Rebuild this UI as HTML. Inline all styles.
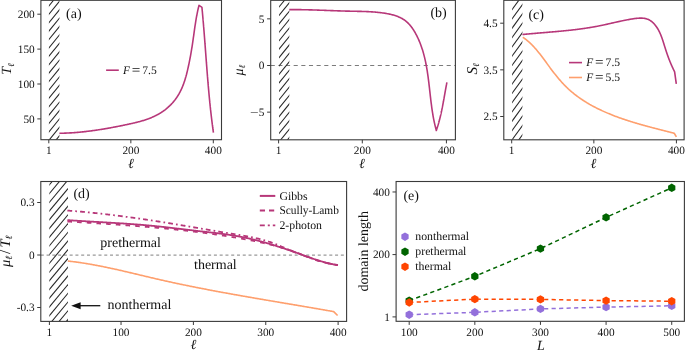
<!DOCTYPE html>
<html><head><meta charset="utf-8"><style>
html,body{margin:0;padding:0;background:#fff;width:685px;height:350px;overflow:hidden;font-family:"Liberation Serif",serif}
text{font-family:"Liberation Serif",serif;text-rendering:geometricPrecision}
</style></head><body>
<svg width="685" height="350" viewBox="0 0 685 350" style="position:absolute;left:0;top:0;will-change:transform">
<g font-family='"Liberation Serif", serif'>
<clipPath id="ha"><rect x="48.9" y="0.3" width="10.5" height="139.39999999999998"/></clipPath>
<g clip-path="url(#ha)" stroke="#262626" stroke-width="1.05">
<line x1="47.90" y1="-9.67" x2="60.40" y2="-25.05"/>
<line x1="47.90" y1="-1.27" x2="60.40" y2="-16.64"/>
<line x1="47.90" y1="7.13" x2="60.40" y2="-8.24"/>
<line x1="47.90" y1="15.53" x2="60.40" y2="0.16"/>
<line x1="47.90" y1="23.93" x2="60.40" y2="8.56"/>
<line x1="47.90" y1="32.33" x2="60.40" y2="16.96"/>
<line x1="47.90" y1="40.73" x2="60.40" y2="25.36"/>
<line x1="47.90" y1="49.13" x2="60.40" y2="33.75"/>
<line x1="47.90" y1="57.53" x2="60.40" y2="42.16"/>
<line x1="47.90" y1="65.93" x2="60.40" y2="50.56"/>
<line x1="47.90" y1="74.33" x2="60.40" y2="58.96"/>
<line x1="47.90" y1="82.73" x2="60.40" y2="67.36"/>
<line x1="47.90" y1="91.13" x2="60.40" y2="75.76"/>
<line x1="47.90" y1="99.53" x2="60.40" y2="84.16"/>
<line x1="47.90" y1="107.93" x2="60.40" y2="92.56"/>
<line x1="47.90" y1="116.33" x2="60.40" y2="100.96"/>
<line x1="47.90" y1="124.73" x2="60.40" y2="109.36"/>
<line x1="47.90" y1="133.13" x2="60.40" y2="117.76"/>
<line x1="47.90" y1="141.53" x2="60.40" y2="126.16"/>
<line x1="47.90" y1="149.93" x2="60.40" y2="134.56"/>
<line x1="47.90" y1="158.33" x2="60.40" y2="142.96"/>
<line x1="47.90" y1="166.73" x2="60.40" y2="151.35"/>
</g>
<path d="M59.39,133.28 L60.14,133.27 L60.89,133.25 L61.63,133.24 L62.38,133.22 L63.12,133.20 L63.87,133.18 L64.61,133.16 L65.35,133.13 L66.10,133.10 L66.84,133.07 L67.58,133.04 L68.33,133.00 L69.07,132.96 L69.81,132.92 L70.55,132.88 L71.30,132.83 L72.04,132.79 L72.78,132.74 L73.52,132.69 L74.26,132.63 L75.00,132.58 L75.74,132.52 L76.48,132.46 L77.22,132.40 L77.96,132.33 L78.70,132.27 L79.43,132.20 L80.17,132.13 L80.91,132.06 L81.65,131.98 L82.39,131.91 L83.12,131.83 L83.86,131.75 L84.60,131.67 L85.33,131.59 L86.07,131.50 L86.81,131.42 L87.54,131.33 L88.28,131.24 L89.01,131.15 L89.75,131.05 L90.48,130.96 L91.22,130.86 L91.95,130.76 L92.69,130.66 L93.42,130.56 L94.15,130.46 L94.89,130.35 L95.62,130.25 L96.35,130.14 L97.09,130.03 L97.82,129.92 L98.55,129.81 L99.28,129.69 L100.02,129.58 L100.75,129.46 L101.48,129.34 L102.21,129.23 L102.94,129.11 L103.68,128.98 L104.41,128.86 L105.14,128.74 L105.87,128.61 L106.60,128.49 L107.33,128.36 L108.06,128.23 L108.79,128.10 L109.52,127.97 L110.25,127.84 L110.98,127.70 L111.71,127.57 L112.44,127.43 L113.17,127.30 L113.90,127.16 L114.63,127.02 L115.36,126.88 L116.09,126.74 L116.82,126.60 L117.54,126.46 L118.27,126.31 L119.00,126.17 L119.73,126.03 L120.46,125.88 L121.19,125.73 L121.91,125.59 L122.64,125.44 L123.37,125.29 L124.10,125.14 L124.83,124.99 L125.55,124.84 L126.28,124.68 L127.01,124.53 L127.73,124.37 L128.46,124.22 L129.19,124.06 L129.91,123.90 L130.64,123.74 L131.36,123.57 L132.09,123.41 L132.81,123.24 L133.54,123.08 L134.26,122.91 L134.98,122.73 L135.71,122.56 L136.43,122.38 L137.15,122.20 L137.87,122.02 L138.59,121.84 L139.31,121.65 L140.02,121.45 L140.74,121.26 L141.46,121.06 L142.17,120.85 L142.88,120.64 L143.59,120.42 L144.30,120.20 L145.01,119.98 L145.71,119.75 L146.41,119.51 L147.11,119.26 L147.81,119.01 L148.51,118.76 L149.20,118.49 L149.89,118.22 L150.58,117.95 L151.26,117.67 L151.94,117.38 L152.62,117.08 L153.30,116.78 L153.97,116.47 L154.64,116.15 L155.30,115.83 L155.96,115.50 L156.62,115.16 L157.27,114.81 L157.92,114.46 L158.57,114.10 L159.21,113.73 L159.84,113.35 L160.47,112.96 L161.10,112.57 L161.72,112.17 L162.33,111.76 L162.95,111.34 L163.55,110.92 L164.15,110.48 L164.75,110.04 L165.33,109.59 L165.92,109.13 L166.49,108.66 L167.06,108.18 L167.63,107.70 L168.19,107.20 L168.74,106.70 L169.28,106.19 L169.82,105.68 L170.35,105.15 L170.88,104.62 L171.39,104.08 L171.90,103.54 L172.41,102.99 L172.90,102.43 L173.39,101.86 L173.86,101.29 L174.33,100.71 L174.80,100.13 L175.25,99.54 L175.69,98.94 L176.13,98.34 L176.56,97.73 L176.97,97.12 L177.38,96.50 L177.78,95.88 L178.17,95.25 L178.55,94.62 L178.92,93.98 L179.29,93.34 L179.64,92.69 L179.99,92.04 L180.33,91.39 L180.66,90.73 L180.98,90.07 L181.29,89.40 L181.60,88.73 L181.90,88.06 L182.19,87.38 L182.47,86.70 L182.75,86.01 L183.02,85.33 L183.29,84.64 L183.55,83.94 L183.80,83.25 L184.05,82.55 L184.29,81.85 L184.52,81.14 L184.75,80.44 L184.98,79.73 L185.20,79.02 L185.41,78.31 L185.62,77.59 L185.82,76.88 L186.03,76.16 L186.22,75.44 L186.42,74.72 L186.60,74.00 L186.79,73.27 L186.97,72.55 L187.15,71.82 L187.32,71.10 L187.50,70.37 L187.67,69.64 L187.83,68.92 L188.00,68.19 L188.16,67.46 L188.32,66.73 L188.48,66.00 L188.64,65.27 L188.79,64.55 L188.94,63.82 L189.10,63.09 L189.24,62.36 L189.39,61.63 L189.54,60.90 L189.68,60.17 L189.82,59.44 L189.96,58.71 L190.10,57.98 L190.24,57.25 L190.37,56.52 L190.51,55.79 L190.64,55.06 L190.77,54.33 L190.90,53.60 L191.03,52.87 L191.15,52.14 L191.28,51.41 L191.40,50.68 L191.52,49.94 L191.64,49.21 L191.76,48.48 L191.88,47.75 L192.00,47.02 L192.11,46.29 L192.23,45.55 L192.34,44.82 L192.45,44.09 L192.56,43.35 L192.67,42.62 L192.78,41.89 L192.89,41.15 L192.99,40.42 L193.10,39.69 L193.20,38.95 L193.31,38.22 L193.41,37.48 L193.51,36.75 L193.62,36.01 L193.72,35.28 L193.82,34.55 L193.92,33.81 L194.02,33.08 L194.12,32.34 L194.23,31.61 L194.33,30.87 L194.43,30.14 L194.54,29.40 L194.64,28.67 L194.75,27.94 L194.85,27.20 L194.96,26.47 L195.07,25.73 L195.18,25.00 L195.29,24.27 L195.40,23.54 L195.52,22.80 L195.63,22.07 L195.75,21.34 L195.87,20.61 L195.99,19.88 L196.11,19.15 L196.24,18.42 L196.37,17.69 L196.50,16.96 L196.63,16.23 L196.77,15.51 L196.91,14.78 L197.05,14.05 L197.19,13.33 L197.34,12.60 L197.49,11.87 L197.64,11.15 L197.80,10.43 L197.96,9.70 L198.13,8.98 L198.30,8.26 L198.47,7.54 L198.64,6.82 L198.82,6.10 L199.01,5.38 L201.70,7.10 L201.94,7.50 L201.98,7.92 L202.02,8.34 L202.06,8.76 L202.10,9.18 L202.14,9.60 L202.18,10.02 L202.22,10.44 L202.26,10.86 L202.30,11.27 L202.34,11.69 L202.38,12.11 L202.42,12.53 L202.46,12.95 L202.49,13.37 L202.53,13.79 L202.57,14.21 L202.61,14.63 L202.65,15.05 L202.68,15.47 L202.72,15.89 L202.76,16.31 L202.80,16.73 L202.83,17.15 L202.87,17.57 L202.91,17.99 L202.94,18.41 L202.98,18.83 L203.02,19.25 L203.05,19.67 L203.09,20.09 L203.13,20.51 L203.16,20.93 L203.20,21.35 L203.23,21.77 L203.27,22.19 L203.31,22.61 L203.34,23.03 L203.38,23.45 L203.41,23.87 L203.45,24.29 L203.48,24.71 L203.52,25.13 L203.55,25.55 L203.59,25.97 L203.62,26.39 L203.66,26.81 L203.69,27.23 L203.72,27.65 L203.76,28.07 L203.79,28.49 L203.83,28.91 L203.86,29.33 L203.90,29.75 L203.93,30.17 L203.96,30.59 L204.00,31.01 L204.03,31.43 L204.06,31.85 L204.10,32.27 L204.13,32.69 L204.16,33.11 L204.20,33.53 L204.23,33.95 L204.26,34.37 L204.30,34.79 L204.33,35.21 L204.36,35.63 L204.39,36.05 L204.43,36.47 L204.46,36.89 L204.49,37.31 L204.53,37.73 L204.56,38.15 L204.59,38.57 L204.62,38.99 L204.66,39.41 L204.69,39.83 L204.72,40.25 L204.75,40.67 L204.78,41.09 L204.82,41.51 L204.85,41.93 L204.88,42.35 L204.91,42.77 L204.94,43.19 L204.98,43.61 L205.01,44.03 L205.04,44.45 L205.07,44.87 L205.10,45.29 L205.14,45.72 L205.17,46.14 L205.20,46.56 L205.23,46.98 L205.26,47.40 L205.29,47.82 L205.33,48.24 L205.36,48.66 L205.39,49.08 L205.42,49.50 L205.45,49.92 L205.48,50.34 L205.52,50.76 L205.55,51.18 L205.58,51.60 L205.61,52.02 L205.64,52.44 L205.67,52.86 L205.70,53.28 L205.74,53.70 L205.77,54.12 L205.80,54.54 L205.83,54.96 L205.86,55.38 L205.89,55.80 L205.93,56.22 L205.96,56.64 L205.99,57.07 L206.02,57.49 L206.05,57.91 L206.08,58.33 L206.12,58.75 L206.15,59.17 L206.18,59.59 L206.21,60.01 L206.24,60.43 L206.27,60.85 L206.31,61.27 L206.34,61.69 L206.37,62.11 L206.40,62.53 L206.43,62.95 L206.47,63.37 L206.50,63.79 L206.53,64.21 L206.56,64.63 L206.59,65.05 L206.63,65.47 L206.66,65.89 L206.69,66.31 L206.72,66.73 L206.76,67.15 L206.79,67.57 L206.82,67.99 L206.85,68.42 L206.89,68.84 L206.92,69.26 L206.95,69.68 L206.98,70.10 L207.02,70.52 L207.05,70.94 L207.08,71.36 L207.12,71.78 L207.15,72.20 L207.18,72.62 L207.21,73.04 L207.25,73.46 L207.28,73.88 L207.32,74.30 L207.35,74.72 L207.38,75.14 L207.42,75.56 L207.45,75.98 L207.48,76.40 L207.52,76.82 L207.55,77.24 L207.59,77.66 L207.62,78.08 L207.65,78.50 L207.69,78.92 L207.72,79.34 L207.76,79.76 L207.79,80.18 L207.83,80.60 L207.86,81.02 L207.90,81.44 L207.93,81.86 L207.97,82.28 L208.00,82.70 L208.04,83.12 L208.07,83.54 L208.11,83.96 L208.15,84.38 L208.18,84.80 L208.22,85.22 L208.25,85.64 L208.29,86.06 L208.33,86.48 L208.36,86.90 L208.40,87.32 L208.44,87.74 L208.47,88.16 L208.51,88.58 L208.55,89.00 L208.58,89.42 L208.62,89.84 L208.66,90.26 L208.70,90.68 L208.73,91.10 L208.77,91.52 L208.81,91.94 L208.85,92.36 L208.89,92.78 L208.93,93.20 L208.96,93.62 L209.00,94.04 L209.04,94.46 L209.08,94.88 L209.12,95.30 L209.16,95.72 L209.20,96.14 L209.24,96.56 L209.28,96.98 L209.32,97.40 L209.36,97.82 L209.40,98.24 L209.44,98.66 L209.48,99.08 L209.52,99.50 L209.56,99.92 L209.60,100.34 L209.65,100.75 L209.69,101.17 L209.73,101.59 L209.77,102.01 L209.81,102.43 L209.86,102.85 L209.90,103.27 L209.94,103.69 L209.98,104.11 L210.03,104.53 L210.07,104.95 L210.11,105.37 L210.16,105.79 L210.20,106.21 L210.24,106.63 L210.29,107.05 L210.33,107.46 L210.38,107.88 L210.42,108.30 L210.47,108.72 L210.51,109.14 L210.56,109.56 L210.60,109.98 L210.65,110.40 L210.70,110.82 L210.74,111.24 L210.79,111.66 L210.83,112.08 L210.88,112.49 L210.93,112.91 L210.98,113.33 L211.02,113.75 L211.07,114.17 L211.12,114.59 L211.17,115.01 L211.22,115.43 L211.26,115.85 L211.31,116.26 L211.36,116.68 L211.41,117.10 L211.46,117.52 L211.51,117.94 L211.56,118.36 L211.61,118.78 L211.66,119.20 L211.71,119.61 L211.76,120.03 L211.82,120.45 L211.87,120.87 L211.92,121.29 L211.97,121.71 L212.02,122.12 L212.08,122.54 L212.13,122.96 L212.18,123.38 L212.23,123.80 L212.29,124.22 L212.34,124.64 L212.40,125.05 L212.45,125.47 L212.51,125.89 L212.56,126.31 L212.62,126.73 L212.67,127.14 L212.73,127.56 L212.78,127.98 L212.84,128.40 L212.90,128.82 L212.95,129.24 L213.01,129.65 L213.07,130.07 L213.12,130.49 L213.18,130.91 L213.24,131.33 L213.30,131.74 L213.36,132.16 L213.42,132.58" fill="none" stroke="#b73779" stroke-width="1.6" stroke-linejoin="round"/>
<rect x="40.9" y="0.3" width="180.6" height="139.39999999999998" fill="none" stroke="#3a3a3a" stroke-width="1.1"/>
<line x1="37.3" y1="118.89999999999999" x2="40.9" y2="118.89999999999999" stroke="#3a3a3a" stroke-width="1"/>
<text transform="translate(34.70,122.65)" font-size="11.3" text-anchor="end" font-style="normal" fill="#111" >50</text>
<line x1="37.3" y1="84.0" x2="40.9" y2="84.0" stroke="#3a3a3a" stroke-width="1"/>
<text transform="translate(34.70,87.75)" font-size="11.3" text-anchor="end" font-style="normal" fill="#111" >100</text>
<line x1="37.3" y1="49.099999999999994" x2="40.9" y2="49.099999999999994" stroke="#3a3a3a" stroke-width="1"/>
<text transform="translate(34.70,52.85)" font-size="11.3" text-anchor="end" font-style="normal" fill="#111" >150</text>
<line x1="37.3" y1="14.2" x2="40.9" y2="14.2" stroke="#3a3a3a" stroke-width="1"/>
<text transform="translate(34.70,17.95)" font-size="11.3" text-anchor="end" font-style="normal" fill="#111" >200</text>
<line x1="48.8" y1="139.7" x2="48.8" y2="143.29999999999998" stroke="#3a3a3a" stroke-width="1"/>
<text transform="translate(48.80,154.30)" font-size="11.3" text-anchor="middle" font-style="normal" fill="#111" >1</text>
<line x1="130.8477" y1="139.7" x2="130.8477" y2="143.29999999999998" stroke="#3a3a3a" stroke-width="1"/>
<text transform="translate(130.85,154.30)" font-size="11.3" text-anchor="middle" font-style="normal" fill="#111" >200</text>
<line x1="213.3077" y1="139.7" x2="213.3077" y2="143.29999999999998" stroke="#3a3a3a" stroke-width="1"/>
<text transform="translate(213.31,154.30)" font-size="11.3" text-anchor="middle" font-style="normal" fill="#111" >400</text>
<text transform="translate(130.80,167.80)" font-size="14" text-anchor="middle" font-style="italic" fill="#111" >ℓ</text>
<text transform="translate(66.00,17.60)" font-size="14" text-anchor="start" font-style="normal" fill="#111" >(a)</text>
<line x1="106.1" y1="70.2" x2="118.8" y2="70.2" stroke="#b73779" stroke-width="1.6"/>
<text transform="translate(123.00,73.80)" font-size="11.3" text-anchor="start" font-style="italic" fill="#111" >F</text>
<text transform="translate(131.80,73.80) scale(1.22,1.0)" font-size="12.430000000000001" text-anchor="start" font-style="normal" fill="#111" >=</text>
<text transform="translate(142.30,73.80)" font-size="11.639000000000001" text-anchor="start" font-style="normal" fill="#111" >7.5</text>
<text transform="translate(11.00,69.00) rotate(-90)" font-size="14" text-anchor="middle" font-style="italic" fill="#111" >T<tspan font-size="9" dy="2.5">ℓ</tspan></text>
<line x1="270.7" y1="65.5" x2="455.4" y2="65.5" stroke="#7c7c7c" stroke-width="1.2" stroke-dasharray="4.1 3.55"/>
<clipPath id="hb"><rect x="279.0" y="0.3" width="10.300000000000011" height="139.5"/></clipPath>
<g clip-path="url(#hb)" stroke="#262626" stroke-width="1.05">
<line x1="278.00" y1="-8.63" x2="290.30" y2="-23.76"/>
<line x1="278.00" y1="-0.20" x2="290.30" y2="-15.33"/>
<line x1="278.00" y1="8.23" x2="290.30" y2="-6.90"/>
<line x1="278.00" y1="16.66" x2="290.30" y2="1.53"/>
<line x1="278.00" y1="25.09" x2="290.30" y2="9.96"/>
<line x1="278.00" y1="33.52" x2="290.30" y2="18.39"/>
<line x1="278.00" y1="41.95" x2="290.30" y2="26.82"/>
<line x1="278.00" y1="50.38" x2="290.30" y2="35.25"/>
<line x1="278.00" y1="58.81" x2="290.30" y2="43.68"/>
<line x1="278.00" y1="67.24" x2="290.30" y2="52.11"/>
<line x1="278.00" y1="75.67" x2="290.30" y2="60.54"/>
<line x1="278.00" y1="84.10" x2="290.30" y2="68.97"/>
<line x1="278.00" y1="92.53" x2="290.30" y2="77.40"/>
<line x1="278.00" y1="100.96" x2="290.30" y2="85.83"/>
<line x1="278.00" y1="109.39" x2="290.30" y2="94.26"/>
<line x1="278.00" y1="117.82" x2="290.30" y2="102.69"/>
<line x1="278.00" y1="126.25" x2="290.30" y2="111.12"/>
<line x1="278.00" y1="134.68" x2="290.30" y2="119.55"/>
<line x1="278.00" y1="143.11" x2="290.30" y2="127.98"/>
<line x1="278.00" y1="151.54" x2="290.30" y2="136.41"/>
<line x1="278.00" y1="159.97" x2="290.30" y2="144.84"/>
<line x1="278.00" y1="168.40" x2="290.30" y2="153.27"/>
</g>
<path d="M289.28,9.63 L290.08,9.63 L290.87,9.62 L291.66,9.62 L292.45,9.61 L293.24,9.61 L294.03,9.61 L294.81,9.62 L295.60,9.62 L296.39,9.62 L297.18,9.63 L297.96,9.63 L298.75,9.64 L299.54,9.65 L300.32,9.66 L301.11,9.67 L301.89,9.68 L302.68,9.70 L303.46,9.71 L304.24,9.73 L305.03,9.74 L305.81,9.76 L306.59,9.78 L307.38,9.79 L308.16,9.81 L308.94,9.83 L309.72,9.85 L310.50,9.88 L311.28,9.90 L312.07,9.92 L312.85,9.94 L313.63,9.97 L314.41,9.99 L315.19,10.02 L315.97,10.04 L316.75,10.07 L317.53,10.10 L318.31,10.12 L319.09,10.15 L319.87,10.18 L320.64,10.21 L321.42,10.23 L322.20,10.26 L322.98,10.29 L323.76,10.32 L324.54,10.35 L325.32,10.38 L326.10,10.41 L326.88,10.44 L327.66,10.47 L328.43,10.49 L329.21,10.52 L329.99,10.55 L330.77,10.58 L331.55,10.61 L332.33,10.64 L333.11,10.67 L333.89,10.70 L334.67,10.72 L335.44,10.75 L336.22,10.78 L337.00,10.81 L337.78,10.83 L338.56,10.86 L339.34,10.89 L340.12,10.91 L340.90,10.94 L341.68,10.96 L342.46,10.99 L343.25,11.01 L344.03,11.03 L344.81,11.06 L345.59,11.08 L346.37,11.10 L347.15,11.12 L347.94,11.14 L348.72,11.16 L349.50,11.17 L350.29,11.19 L351.07,11.21 L351.85,11.22 L352.64,11.24 L353.42,11.25 L354.21,11.27 L354.99,11.28 L355.78,11.30 L356.56,11.31 L357.35,11.33 L358.14,11.34 L358.92,11.36 L359.71,11.38 L360.49,11.39 L361.28,11.41 L362.07,11.43 L362.86,11.46 L363.64,11.48 L364.43,11.51 L365.22,11.53 L366.01,11.56 L366.79,11.59 L367.58,11.63 L368.37,11.66 L369.16,11.70 L369.95,11.75 L370.73,11.79 L371.52,11.84 L372.31,11.89 L373.10,11.94 L373.89,12.00 L374.67,12.06 L375.46,12.13 L376.25,12.20 L377.04,12.27 L377.83,12.35 L378.62,12.43 L379.40,12.52 L380.19,12.61 L380.98,12.71 L381.77,12.81 L382.56,12.92 L383.34,13.03 L384.13,13.15 L384.92,13.27 L385.71,13.40 L386.49,13.53 L387.28,13.68 L388.06,13.82 L388.85,13.98 L389.63,14.14 L390.40,14.32 L391.18,14.50 L391.95,14.69 L392.72,14.89 L393.48,15.10 L394.23,15.32 L394.99,15.55 L395.73,15.79 L396.47,16.05 L397.20,16.31 L397.92,16.59 L398.64,16.89 L399.34,17.19 L400.04,17.51 L400.73,17.85 L401.41,18.20 L402.08,18.56 L402.73,18.95 L403.38,19.34 L404.01,19.76 L404.63,20.19 L405.24,20.64 L405.84,21.11 L406.42,21.59 L406.99,22.09 L407.55,22.60 L408.09,23.13 L408.63,23.68 L409.15,24.24 L409.66,24.81 L410.16,25.39 L410.65,25.99 L411.13,26.59 L411.60,27.21 L412.06,27.84 L412.51,28.47 L412.95,29.12 L413.38,29.77 L413.80,30.43 L414.21,31.10 L414.62,31.77 L415.01,32.45 L415.40,33.14 L415.78,33.82 L416.15,34.52 L416.51,35.21 L416.87,35.91 L417.22,36.61 L417.56,37.32 L417.90,38.02 L418.22,38.73 L418.55,39.44 L418.86,40.15 L419.17,40.87 L419.47,41.59 L419.77,42.31 L420.05,43.03 L420.34,43.75 L420.61,44.48 L420.89,45.21 L421.15,45.94 L421.41,46.67 L421.66,47.41 L421.91,48.14 L422.15,48.88 L422.39,49.62 L422.62,50.36 L422.85,51.11 L423.07,51.85 L423.28,52.60 L423.50,53.35 L423.70,54.10 L423.90,54.85 L424.10,55.61 L424.29,56.36 L424.48,57.12 L424.67,57.88 L424.84,58.64 L425.02,59.40 L425.19,60.16 L425.36,60.92 L425.52,61.69 L425.68,62.46 L425.84,63.22 L425.99,63.99 L426.14,64.76 L426.28,65.53 L426.43,66.31 L426.57,67.08 L426.70,67.85 L426.83,68.63 L426.96,69.41 L427.09,70.18 L427.22,70.96 L427.34,71.74 L427.46,72.52 L427.57,73.30 L427.69,74.08 L427.80,74.86 L427.91,75.64 L428.02,76.43 L428.13,77.21 L428.23,77.99 L428.33,78.78 L428.44,79.56 L428.54,80.35 L428.63,81.13 L428.73,81.92 L428.83,82.70 L428.92,83.49 L429.02,84.28 L429.11,85.07 L429.20,85.85 L429.29,86.64 L429.38,87.43 L429.47,88.21 L429.56,89.00 L429.65,89.79 L429.74,90.58 L429.83,91.36 L429.91,92.15 L430.00,92.94 L430.09,93.72 L430.18,94.51 L430.27,95.30 L430.36,96.08 L430.45,96.87 L430.54,97.65 L430.63,98.44 L430.72,99.22 L430.81,100.00 L430.91,100.79 L431.00,101.57 L431.10,102.35 L431.20,103.13 L431.30,103.91 L431.40,104.69 L431.50,105.47 L431.60,106.25 L431.71,107.03 L431.81,107.81 L431.92,108.58 L432.03,109.36 L432.15,110.13 L432.26,110.90 L432.38,111.67 L432.50,112.45 L432.62,113.21 L432.75,113.98 L432.88,114.75 L433.01,115.52 L433.14,116.28 L433.28,117.04 L433.42,117.81 L433.56,118.57 L433.71,119.33 L433.86,120.08 L434.02,120.84 L434.17,121.60 L434.33,122.35 L434.50,123.10 L434.67,123.85 L434.84,124.60 L435.02,125.35 L435.20,126.09 L435.38,126.83 L435.57,127.58 L435.77,128.32 L435.97,129.05 L436.17,129.79 L436.38,130.52 L436.26,130.54 L436.31,130.39 L436.37,130.23 L436.42,130.07 L436.48,129.92 L436.53,129.76 L436.58,129.60 L436.64,129.45 L436.69,129.29 L436.75,129.13 L436.80,128.98 L436.85,128.82 L436.90,128.66 L436.96,128.50 L437.01,128.35 L437.06,128.19 L437.11,128.03 L437.17,127.88 L437.22,127.72 L437.27,127.56 L437.32,127.40 L437.37,127.24 L437.42,127.09 L437.47,126.93 L437.52,126.77 L437.57,126.61 L437.62,126.46 L437.67,126.30 L437.72,126.14 L437.77,125.98 L437.82,125.82 L437.87,125.66 L437.92,125.51 L437.96,125.35 L438.01,125.19 L438.06,125.03 L438.11,124.87 L438.15,124.71 L438.20,124.56 L438.25,124.40 L438.30,124.24 L438.34,124.08 L438.39,123.92 L438.44,123.76 L438.48,123.60 L438.53,123.44 L438.57,123.28 L438.62,123.12 L438.66,122.97 L438.71,122.81 L438.75,122.65 L438.80,122.49 L438.84,122.33 L438.89,122.17 L438.93,122.01 L438.98,121.85 L439.02,121.69 L439.06,121.53 L439.11,121.37 L439.15,121.21 L439.19,121.05 L439.24,120.89 L439.28,120.73 L439.32,120.57 L439.37,120.41 L439.41,120.25 L439.45,120.09 L439.49,119.93 L439.53,119.77 L439.58,119.61 L439.62,119.45 L439.66,119.29 L439.70,119.13 L439.74,118.97 L439.78,118.81 L439.82,118.65 L439.86,118.49 L439.90,118.33 L439.94,118.17 L439.98,118.01 L440.02,117.85 L440.06,117.69 L440.10,117.53 L440.14,117.36 L440.18,117.20 L440.22,117.04 L440.26,116.88 L440.30,116.72 L440.34,116.56 L440.38,116.40 L440.41,116.24 L440.45,116.08 L440.49,115.92 L440.53,115.75 L440.57,115.59 L440.60,115.43 L440.64,115.27 L440.68,115.11 L440.72,114.95 L440.75,114.79 L440.79,114.63 L440.83,114.46 L440.86,114.30 L440.90,114.14 L440.94,113.98 L440.97,113.82 L441.01,113.66 L441.05,113.49 L441.08,113.33 L441.12,113.17 L441.15,113.01 L441.19,112.85 L441.22,112.69 L441.26,112.52 L441.29,112.36 L441.33,112.20 L441.37,112.04 L441.40,111.88 L441.43,111.71 L441.47,111.55 L441.50,111.39 L441.54,111.23 L441.57,111.07 L441.61,110.90 L441.64,110.74 L441.68,110.58 L441.71,110.42 L441.74,110.26 L441.78,110.09 L441.81,109.93 L441.84,109.77 L441.88,109.61 L441.91,109.44 L441.94,109.28 L441.98,109.12 L442.01,108.96 L442.04,108.79 L442.08,108.63 L442.11,108.47 L442.14,108.31 L442.17,108.14 L442.21,107.98 L442.24,107.82 L442.27,107.66 L442.30,107.49 L442.34,107.33 L442.37,107.17 L442.40,107.01 L442.43,106.84 L442.46,106.68 L442.50,106.52 L442.53,106.36 L442.56,106.19 L442.59,106.03 L442.62,105.87 L442.65,105.70 L442.68,105.54 L442.72,105.38 L442.75,105.22 L442.78,105.05 L442.81,104.89 L442.84,104.73 L442.87,104.56 L442.90,104.40 L442.93,104.24 L442.96,104.07 L442.99,103.91 L443.02,103.75 L443.05,103.59 L443.08,103.42 L443.11,103.26 L443.15,103.10 L443.18,102.93 L443.21,102.77 L443.24,102.61 L443.27,102.44 L443.30,102.28 L443.33,102.12 L443.36,101.95 L443.39,101.79 L443.42,101.63 L443.45,101.47 L443.47,101.30 L443.50,101.14 L443.53,100.98 L443.56,100.81 L443.59,100.65 L443.62,100.49 L443.65,100.32 L443.68,100.16 L443.71,100.00 L443.74,99.83 L443.77,99.67 L443.80,99.51 L443.83,99.34 L443.86,99.18 L443.89,99.02 L443.92,98.85 L443.95,98.69 L443.97,98.53 L444.00,98.36 L444.03,98.20 L444.06,98.04 L444.09,97.87 L444.12,97.71 L444.15,97.55 L444.18,97.38 L444.21,97.22 L444.24,97.06 L444.26,96.89 L444.29,96.73 L444.32,96.57 L444.35,96.40 L444.38,96.24 L444.41,96.08 L444.44,95.91 L444.47,95.75 L444.50,95.59 L444.52,95.42 L444.55,95.26 L444.58,95.10 L444.61,94.94 L444.64,94.77 L444.67,94.61 L444.70,94.45 L444.73,94.28 L444.75,94.12 L444.78,93.96 L444.81,93.79 L444.84,93.63 L444.87,93.47 L444.90,93.30 L444.93,93.14 L444.96,92.98 L444.99,92.81 L445.01,92.65 L445.04,92.49 L445.07,92.32 L445.10,92.16 L445.13,92.00 L445.16,91.83 L445.19,91.67 L445.22,91.51 L445.25,91.34 L445.27,91.18 L445.30,91.02 L445.33,90.86 L445.36,90.69 L445.39,90.53 L445.42,90.37 L445.45,90.20 L445.48,90.04 L445.51,89.88 L445.54,89.71 L445.57,89.55 L445.59,89.39 L445.62,89.23 L445.65,89.06 L445.68,88.90 L445.71,88.74 L445.74,88.57 L445.77,88.41 L445.80,88.25 L445.83,88.09 L445.86,87.92 L445.89,87.76 L445.92,87.60 L445.95,87.43 L445.98,87.27 L446.01,87.11 L446.04,86.95 L446.07,86.78 L446.10,86.62 L446.13,86.46 L446.16,86.30 L446.19,86.13 L446.22,85.97 L446.25,85.81 L446.28,85.65 L446.31,85.48 L446.34,85.32 L446.37,85.16 L446.40,85.00 L446.43,84.83 L446.46,84.67 L446.49,84.51 L446.52,84.35 L446.56,84.18 L446.59,84.02 L446.62,83.86 L446.65,83.70 L446.68,83.53 L446.71,83.37 L446.74,83.21 L446.77,83.05 L446.81,82.89 L446.84,82.72 L446.87,82.56 L446.90,82.40" fill="none" stroke="#b73779" stroke-width="1.6" stroke-linejoin="round"/>
<rect x="270.7" y="0.3" width="184.7" height="139.5" fill="none" stroke="#3a3a3a" stroke-width="1.1"/>
<line x1="267.09999999999997" y1="112.15" x2="270.7" y2="112.15" stroke="#3a3a3a" stroke-width="1"/>
<text transform="translate(264.50,115.90)" font-size="11.3" text-anchor="end" font-style="normal" fill="#111" >5</text>
<text transform="translate(258.60,115.90) scale(1.35,1.0)" font-size="11.3" text-anchor="end" font-style="normal" fill="#111" >−</text>
<line x1="267.09999999999997" y1="65.5" x2="270.7" y2="65.5" stroke="#3a3a3a" stroke-width="1"/>
<text transform="translate(264.50,69.25)" font-size="11.3" text-anchor="end" font-style="normal" fill="#111" >0</text>
<line x1="267.09999999999997" y1="18.85" x2="270.7" y2="18.85" stroke="#3a3a3a" stroke-width="1"/>
<text transform="translate(264.50,22.60)" font-size="11.3" text-anchor="end" font-style="normal" fill="#111" >5</text>
<line x1="278.6" y1="139.8" x2="278.6" y2="143.4" stroke="#3a3a3a" stroke-width="1"/>
<text transform="translate(278.60,154.30)" font-size="11.3" text-anchor="middle" font-style="normal" fill="#111" >1</text>
<line x1="362.2994" y1="139.8" x2="362.2994" y2="143.4" stroke="#3a3a3a" stroke-width="1"/>
<text transform="translate(362.30,154.30)" font-size="11.3" text-anchor="middle" font-style="normal" fill="#111" >200</text>
<line x1="446.4194" y1="139.8" x2="446.4194" y2="143.4" stroke="#3a3a3a" stroke-width="1"/>
<text transform="translate(446.42,154.30)" font-size="11.3" text-anchor="middle" font-style="normal" fill="#111" >400</text>
<text transform="translate(362.00,167.80)" font-size="14" text-anchor="middle" font-style="italic" fill="#111" >ℓ</text>
<text transform="translate(430.40,17.00)" font-size="14" text-anchor="start" font-style="normal" fill="#111" >(b)</text>
<text transform="translate(242.60,70.20) rotate(-90)" font-size="14" text-anchor="middle" font-style="italic" fill="#111" >μ<tspan font-size="9" dy="2.5">ℓ</tspan></text>
<clipPath id="hc"><rect x="512.1" y="0.3" width="10.299999999999955" height="139.5"/></clipPath>
<g clip-path="url(#hc)" stroke="#262626" stroke-width="1.05">
<line x1="511.10" y1="-7.73" x2="523.40" y2="-24.58"/>
<line x1="511.10" y1="1.57" x2="523.40" y2="-15.28"/>
<line x1="511.10" y1="10.87" x2="523.40" y2="-5.98"/>
<line x1="511.10" y1="20.17" x2="523.40" y2="3.32"/>
<line x1="511.10" y1="29.47" x2="523.40" y2="12.62"/>
<line x1="511.10" y1="38.77" x2="523.40" y2="21.92"/>
<line x1="511.10" y1="48.07" x2="523.40" y2="31.22"/>
<line x1="511.10" y1="57.37" x2="523.40" y2="40.52"/>
<line x1="511.10" y1="66.67" x2="523.40" y2="49.82"/>
<line x1="511.10" y1="75.97" x2="523.40" y2="59.12"/>
<line x1="511.10" y1="85.27" x2="523.40" y2="68.42"/>
<line x1="511.10" y1="94.57" x2="523.40" y2="77.72"/>
<line x1="511.10" y1="103.87" x2="523.40" y2="87.02"/>
<line x1="511.10" y1="113.17" x2="523.40" y2="96.32"/>
<line x1="511.10" y1="122.47" x2="523.40" y2="105.62"/>
<line x1="511.10" y1="131.77" x2="523.40" y2="114.92"/>
<line x1="511.10" y1="141.07" x2="523.40" y2="124.22"/>
<line x1="511.10" y1="150.37" x2="523.40" y2="133.52"/>
<line x1="511.10" y1="159.67" x2="523.40" y2="142.82"/>
<line x1="511.10" y1="168.97" x2="523.40" y2="152.12"/>
</g>
<path d="M522.82,37.22 L523.33,37.57 L523.83,37.92 L524.33,38.27 L524.82,38.63 L525.30,39.00 L525.79,39.37 L526.26,39.74 L526.74,40.12 L527.21,40.51 L527.67,40.90 L528.13,41.29 L528.59,41.69 L529.04,42.10 L529.49,42.50 L529.94,42.92 L530.38,43.33 L530.82,43.75 L531.25,44.18 L531.69,44.61 L532.12,45.04 L532.54,45.48 L532.96,45.92 L533.38,46.36 L533.80,46.81 L534.21,47.26 L534.62,47.71 L535.03,48.17 L535.44,48.63 L535.84,49.09 L536.24,49.55 L536.64,50.02 L537.04,50.49 L537.43,50.97 L537.83,51.44 L538.22,51.92 L538.60,52.40 L538.99,52.88 L539.38,53.37 L539.76,53.86 L540.14,54.34 L540.52,54.83 L540.90,55.33 L541.28,55.82 L541.66,56.32 L542.03,56.81 L542.41,57.31 L542.78,57.81 L543.15,58.31 L543.53,58.81 L543.90,59.31 L544.27,59.82 L544.64,60.32 L545.01,60.82 L545.38,61.33 L545.75,61.83 L546.12,62.34 L546.49,62.84 L546.86,63.35 L547.23,63.86 L547.60,64.36 L547.97,64.87 L548.34,65.37 L548.71,65.88 L549.08,66.38 L549.46,66.89 L549.83,67.39 L550.20,67.90 L550.58,68.40 L550.95,68.90 L551.33,69.40 L551.71,69.90 L552.08,70.40 L552.46,70.90 L552.84,71.40 L553.22,71.90 L553.60,72.39 L553.99,72.89 L554.37,73.38 L554.75,73.87 L555.14,74.36 L555.53,74.85 L555.92,75.34 L556.31,75.82 L556.70,76.31 L557.09,76.79 L557.49,77.27 L557.88,77.75 L558.28,78.23 L558.68,78.71 L559.08,79.18 L559.49,79.65 L559.89,80.12 L560.30,80.59 L560.71,81.05 L561.12,81.52 L561.53,81.98 L561.94,82.43 L562.36,82.89 L562.78,83.34 L563.20,83.79 L563.62,84.24 L564.05,84.69 L564.48,85.13 L564.91,85.57 L565.34,86.01 L565.77,86.44 L566.21,86.87 L566.65,87.30 L567.09,87.72 L567.54,88.15 L567.98,88.56 L568.43,88.98 L568.89,89.39 L569.34,89.81 L569.80,90.21 L570.25,90.62 L570.72,91.02 L571.18,91.42 L571.64,91.82 L572.11,92.21 L572.58,92.60 L573.05,92.99 L573.53,93.38 L574.00,93.76 L574.48,94.14 L574.96,94.52 L575.44,94.89 L575.93,95.26 L576.42,95.63 L576.90,96.00 L577.40,96.36 L577.89,96.73 L578.38,97.09 L578.88,97.44 L579.38,97.80 L579.88,98.15 L580.38,98.50 L580.89,98.85 L581.39,99.19 L581.90,99.53 L582.41,99.87 L582.92,100.21 L583.43,100.54 L583.95,100.88 L584.47,101.21 L584.99,101.53 L585.51,101.86 L586.03,102.18 L586.55,102.50 L587.08,102.82 L587.61,103.14 L588.13,103.45 L588.67,103.76 L589.20,104.07 L589.73,104.38 L590.27,104.68 L590.80,104.99 L591.34,105.29 L591.88,105.59 L592.42,105.88 L592.97,106.18 L593.51,106.47 L594.06,106.76 L594.60,107.05 L595.15,107.33 L595.70,107.62 L596.26,107.90 L596.81,108.18 L597.36,108.46 L597.92,108.73 L598.47,109.00 L599.03,109.28 L599.59,109.55 L600.15,109.81 L600.72,110.08 L601.28,110.34 L601.84,110.61 L602.41,110.87 L602.97,111.13 L603.54,111.38 L604.11,111.64 L604.68,111.89 L605.25,112.14 L605.83,112.39 L606.40,112.64 L606.97,112.89 L607.55,113.13 L608.12,113.37 L608.70,113.61 L609.28,113.85 L609.86,114.09 L610.44,114.33 L611.02,114.56 L611.60,114.79 L612.19,115.02 L612.77,115.25 L613.36,115.48 L613.94,115.71 L614.53,115.93 L615.11,116.16 L615.70,116.38 L616.29,116.60 L616.88,116.82 L617.47,117.03 L618.06,117.25 L618.65,117.46 L619.24,117.68 L619.84,117.89 L620.43,118.10 L621.03,118.31 L621.62,118.51 L622.22,118.72 L622.81,118.93 L623.41,119.13 L624.00,119.33 L624.60,119.53 L625.20,119.73 L625.80,119.93 L626.40,120.13 L627.00,120.32 L627.60,120.52 L628.20,120.71 L628.80,120.90 L629.40,121.10 L630.00,121.29 L630.60,121.47 L631.20,121.66 L631.80,121.85 L632.41,122.03 L633.01,122.22 L633.61,122.40 L634.22,122.58 L634.82,122.77 L635.42,122.95 L636.03,123.13 L636.63,123.30 L637.23,123.48 L637.84,123.66 L638.44,123.83 L639.05,124.01 L639.65,124.18 L640.26,124.36 L640.86,124.53 L641.47,124.70 L642.07,124.87 L642.67,125.04 L643.28,125.21 L643.88,125.38 L644.49,125.54 L645.09,125.71 L645.70,125.88 L646.30,126.04 L646.90,126.20 L647.51,126.37 L648.11,126.53 L648.71,126.69 L649.32,126.85 L649.92,127.02 L650.52,127.18 L651.13,127.34 L651.73,127.49 L652.33,127.65 L652.93,127.81 L653.53,127.97 L654.13,128.13 L654.73,128.28 L655.33,128.44 L655.93,128.59 L656.53,128.75 L657.13,128.90 L657.73,129.06 L658.33,129.21 L658.92,129.36 L659.52,129.52 L660.12,129.67 L660.71,129.82 L661.31,129.97 L661.90,130.12 L662.50,130.27 L663.09,130.42 L663.68,130.58 L664.27,130.73 L664.87,130.88 L665.46,131.02 L666.05,131.17 L666.64,131.32 L667.22,131.47 L667.81,131.62 L668.40,131.77 L668.98,131.92 L669.57,132.07 L670.15,132.22 L670.74,132.36 L671.32,132.51 L671.90,132.66 L672.48,132.81 L673.06,132.96 L673.64,133.10 L674.22,133.25 L676.40,136.90" fill="none" stroke="#fe9f6d" stroke-width="1.6" stroke-linejoin="round"/>
<path d="M522.40,34.53 L523.02,34.47 L523.65,34.41 L524.27,34.35 L524.89,34.29 L525.52,34.23 L526.14,34.17 L526.76,34.11 L527.39,34.05 L528.01,33.99 L528.63,33.94 L529.26,33.88 L529.88,33.82 L530.50,33.77 L531.13,33.71 L531.75,33.66 L532.38,33.60 L533.00,33.55 L533.62,33.49 L534.25,33.44 L534.87,33.38 L535.50,33.33 L536.12,33.28 L536.74,33.22 L537.37,33.17 L537.99,33.12 L538.62,33.06 L539.24,33.01 L539.87,32.96 L540.49,32.91 L541.11,32.85 L541.74,32.80 L542.36,32.75 L542.99,32.70 L543.61,32.65 L544.24,32.59 L544.86,32.54 L545.48,32.49 L546.11,32.44 L546.73,32.38 L547.36,32.33 L547.98,32.28 L548.61,32.23 L549.23,32.17 L549.86,32.12 L550.48,32.07 L551.10,32.01 L551.73,31.96 L552.35,31.91 L552.98,31.85 L553.60,31.80 L554.22,31.74 L554.85,31.69 L555.47,31.63 L556.10,31.58 L556.72,31.52 L557.34,31.47 L557.97,31.41 L558.59,31.35 L559.22,31.30 L559.84,31.24 L560.46,31.18 L561.09,31.12 L561.71,31.06 L562.33,31.00 L562.96,30.94 L563.58,30.88 L564.20,30.82 L564.83,30.76 L565.45,30.69 L566.07,30.63 L566.69,30.57 L567.32,30.50 L567.94,30.44 L568.56,30.37 L569.18,30.30 L569.81,30.24 L570.43,30.17 L571.05,30.10 L571.67,30.03 L572.29,29.96 L572.91,29.89 L573.54,29.82 L574.16,29.74 L574.78,29.67 L575.40,29.60 L576.02,29.52 L576.64,29.44 L577.26,29.37 L577.88,29.29 L578.50,29.21 L579.12,29.13 L579.74,29.05 L580.36,28.96 L580.98,28.88 L581.60,28.80 L582.22,28.71 L582.84,28.63 L583.46,28.54 L584.08,28.45 L584.70,28.36 L585.32,28.27 L585.93,28.18 L586.55,28.08 L587.17,27.99 L587.79,27.89 L588.40,27.80 L589.02,27.70 L589.64,27.60 L590.26,27.50 L590.87,27.39 L591.49,27.29 L592.11,27.19 L592.72,27.08 L593.34,26.97 L593.95,26.86 L594.57,26.75 L595.18,26.64 L595.80,26.53 L596.41,26.41 L597.03,26.30 L597.64,26.18 L598.26,26.06 L598.87,25.94 L599.48,25.82 L600.10,25.69 L600.71,25.57 L601.32,25.44 L601.93,25.31 L602.55,25.18 L603.16,25.05 L603.77,24.92 L604.38,24.79 L604.99,24.66 L605.61,24.52 L606.22,24.39 L606.83,24.25 L607.44,24.11 L608.06,23.98 L608.67,23.84 L609.28,23.70 L609.89,23.56 L610.50,23.42 L611.12,23.28 L611.73,23.14 L612.34,23.01 L612.96,22.87 L613.57,22.73 L614.19,22.59 L614.80,22.45 L615.41,22.31 L616.03,22.17 L616.64,22.03 L617.26,21.90 L617.88,21.76 L618.49,21.62 L619.11,21.49 L619.73,21.36 L620.35,21.22 L620.96,21.09 L621.58,20.96 L622.20,20.83 L622.82,20.70 L623.45,20.57 L624.07,20.44 L624.69,20.32 L625.31,20.19 L625.94,20.07 L626.56,19.95 L627.19,19.83 L627.81,19.72 L628.44,19.60 L629.07,19.49 L629.70,19.38 L630.33,19.27 L630.96,19.16 L631.59,19.05 L632.22,18.95 L632.85,18.85 L633.49,18.75 L634.12,18.66 L634.76,18.57 L635.39,18.49 L636.02,18.41 L636.66,18.34 L637.29,18.28 L637.91,18.22 L638.54,18.18 L639.16,18.14 L639.78,18.12 L640.40,18.11 L641.01,18.11 L641.62,18.12 L642.22,18.14 L642.82,18.19 L643.41,18.24 L644.00,18.31 L644.58,18.40 L645.15,18.51 L645.72,18.63 L646.28,18.78 L646.83,18.94 L647.37,19.13 L647.91,19.34 L648.43,19.56 L648.95,19.81 L649.46,20.08 L649.96,20.37 L650.45,20.68 L650.93,21.01 L651.40,21.36 L651.87,21.72 L652.32,22.10 L652.77,22.49 L653.21,22.90 L653.64,23.33 L654.06,23.77 L654.47,24.22 L654.87,24.69 L655.26,25.17 L655.65,25.65 L656.02,26.15 L656.39,26.66 L656.75,27.18 L657.09,27.71 L657.43,28.25 L657.76,28.79 L658.08,29.34 L658.39,29.90 L658.70,30.47 L658.99,31.03 L659.28,31.61 L659.56,32.19 L659.83,32.78 L660.10,33.37 L660.36,33.96 L660.61,34.56 L660.86,35.16 L661.10,35.77 L661.34,36.38 L661.57,36.99 L661.79,37.60 L662.02,38.22 L662.23,38.83 L662.45,39.45 L662.66,40.07 L662.86,40.69 L663.07,41.32 L663.27,41.94 L663.47,42.56 L663.66,43.18 L663.86,43.80 L664.05,44.42 L664.24,45.03 L664.43,45.65 L664.62,46.26 L664.81,46.87 L665.00,47.48 L665.19,48.09 L665.39,48.69 L665.58,49.29 L665.77,49.89 L665.96,50.48 L666.16,51.07 L666.35,51.66 L666.55,52.25 L666.75,52.83 L666.94,53.42 L667.14,54.00 L667.35,54.58 L667.55,55.15 L667.75,55.73 L667.96,56.30 L668.17,56.88 L668.38,57.45 L668.59,58.02 L668.81,58.59 L669.02,59.16 L669.24,59.73 L669.47,60.29 L669.69,60.86 L669.92,61.43 L670.15,62.00 L670.38,62.56 L670.62,63.13 L670.86,63.70 L671.10,64.26 L671.35,64.83 L671.60,65.40 L671.85,65.97 L672.11,66.54 L672.37,67.11 L672.63,67.68 L672.90,68.26 L673.17,68.83 L673.45,69.41 L673.73,69.98 L674.01,70.56 L674.30,71.14 L674.59,71.73 L676.30,83.80" fill="none" stroke="#b73779" stroke-width="1.6" stroke-linejoin="round"/>
<rect x="503.8" y="0.3" width="180.3" height="139.5" fill="none" stroke="#3a3a3a" stroke-width="1.1"/>
<line x1="500.2" y1="116.5" x2="503.8" y2="116.5" stroke="#3a3a3a" stroke-width="1"/>
<text transform="translate(497.60,120.25)" font-size="11.3" text-anchor="end" font-style="normal" fill="#111" >2.5</text>
<line x1="500.2" y1="69.85" x2="503.8" y2="69.85" stroke="#3a3a3a" stroke-width="1"/>
<text transform="translate(497.60,73.60)" font-size="11.3" text-anchor="end" font-style="normal" fill="#111" >3.5</text>
<line x1="500.2" y1="23.2" x2="503.8" y2="23.2" stroke="#3a3a3a" stroke-width="1"/>
<text transform="translate(497.60,26.95)" font-size="11.3" text-anchor="end" font-style="normal" fill="#111" >4.5</text>
<line x1="511.7" y1="139.8" x2="511.7" y2="143.4" stroke="#3a3a3a" stroke-width="1"/>
<text transform="translate(511.70,154.30)" font-size="11.3" text-anchor="middle" font-style="normal" fill="#111" >1</text>
<line x1="593.8471999999999" y1="139.8" x2="593.8471999999999" y2="143.4" stroke="#3a3a3a" stroke-width="1"/>
<text transform="translate(593.85,154.30)" font-size="11.3" text-anchor="middle" font-style="normal" fill="#111" >200</text>
<line x1="676.4072" y1="139.8" x2="676.4072" y2="143.4" stroke="#3a3a3a" stroke-width="1"/>
<text transform="translate(676.41,154.30)" font-size="11.3" text-anchor="middle" font-style="normal" fill="#111" >400</text>
<text transform="translate(593.50,167.80)" font-size="14" text-anchor="middle" font-style="italic" fill="#111" >ℓ</text>
<text transform="translate(528.40,19.00)" font-size="14" text-anchor="start" font-style="normal" fill="#111" >(c)</text>
<text transform="translate(476.60,68.90) rotate(-90)" font-size="15" text-anchor="middle" font-style="italic" fill="#111" >S<tspan font-size="9" dy="2.5">ℓ</tspan></text>
<line x1="569" y1="62.6" x2="582" y2="62.6" stroke="#b73779" stroke-width="1.6"/>
<text transform="translate(586.30,66.20)" font-size="11.3" text-anchor="start" font-style="italic" fill="#111" >F</text>
<text transform="translate(595.10,66.20) scale(1.22,1.0)" font-size="12.430000000000001" text-anchor="start" font-style="normal" fill="#111" >=</text>
<text transform="translate(605.60,66.20)" font-size="11.639000000000001" text-anchor="start" font-style="normal" fill="#111" >7.5</text>
<line x1="569" y1="77.5" x2="582" y2="77.5" stroke="#fe9f6d" stroke-width="1.6"/>
<text transform="translate(586.30,81.10)" font-size="11.3" text-anchor="start" font-style="italic" fill="#111" >F</text>
<text transform="translate(595.10,81.10) scale(1.22,1.0)" font-size="12.430000000000001" text-anchor="start" font-style="normal" fill="#111" >=</text>
<text transform="translate(605.60,81.10)" font-size="11.639000000000001" text-anchor="start" font-style="normal" fill="#111" >5.5</text>
<line x1="40.8" y1="255.1" x2="346.6" y2="255.1" stroke="#999" stroke-width="1.2" stroke-dasharray="3 2.77"/>
<clipPath id="hd"><rect x="49.3" y="181.5" width="18.60000000000001" height="139.89999999999998"/></clipPath>
<g clip-path="url(#hd)" stroke="#262626" stroke-width="1.05">
<line x1="48.30" y1="168.66" x2="68.90" y2="143.94"/>
<line x1="48.30" y1="177.38" x2="68.90" y2="152.66"/>
<line x1="48.30" y1="186.10" x2="68.90" y2="161.38"/>
<line x1="48.30" y1="194.82" x2="68.90" y2="170.10"/>
<line x1="48.30" y1="203.54" x2="68.90" y2="178.82"/>
<line x1="48.30" y1="212.26" x2="68.90" y2="187.54"/>
<line x1="48.30" y1="220.98" x2="68.90" y2="196.26"/>
<line x1="48.30" y1="229.70" x2="68.90" y2="204.98"/>
<line x1="48.30" y1="238.42" x2="68.90" y2="213.70"/>
<line x1="48.30" y1="247.14" x2="68.90" y2="222.42"/>
<line x1="48.30" y1="255.86" x2="68.90" y2="231.14"/>
<line x1="48.30" y1="264.58" x2="68.90" y2="239.86"/>
<line x1="48.30" y1="273.30" x2="68.90" y2="248.58"/>
<line x1="48.30" y1="282.02" x2="68.90" y2="257.30"/>
<line x1="48.30" y1="290.74" x2="68.90" y2="266.02"/>
<line x1="48.30" y1="299.46" x2="68.90" y2="274.74"/>
<line x1="48.30" y1="308.18" x2="68.90" y2="283.46"/>
<line x1="48.30" y1="316.90" x2="68.90" y2="292.18"/>
<line x1="48.30" y1="325.62" x2="68.90" y2="300.90"/>
<line x1="48.30" y1="334.34" x2="68.90" y2="309.62"/>
<line x1="48.30" y1="343.06" x2="68.90" y2="318.34"/>
<line x1="48.30" y1="351.78" x2="68.90" y2="327.06"/>
<line x1="48.30" y1="360.50" x2="68.90" y2="335.78"/>
</g>
<path d="M67.83,261.07 L68.74,261.17 L69.64,261.27 L70.54,261.37 L71.44,261.47 L72.34,261.58 L73.24,261.69 L74.14,261.80 L75.04,261.91 L75.94,262.03 L76.84,262.15 L77.73,262.27 L78.63,262.40 L79.53,262.52 L80.42,262.65 L81.32,262.78 L82.22,262.92 L83.11,263.05 L84.00,263.19 L84.90,263.33 L85.79,263.48 L86.69,263.62 L87.58,263.77 L88.47,263.92 L89.36,264.07 L90.25,264.22 L91.14,264.38 L92.04,264.54 L92.93,264.70 L93.82,264.86 L94.71,265.02 L95.60,265.18 L96.48,265.35 L97.37,265.52 L98.26,265.69 L99.15,265.86 L100.04,266.03 L100.92,266.21 L101.81,266.39 L102.70,266.56 L103.58,266.74 L104.47,266.92 L105.36,267.11 L106.24,267.29 L107.13,267.47 L108.01,267.66 L108.90,267.85 L109.78,268.04 L110.67,268.23 L111.55,268.42 L112.44,268.61 L113.32,268.81 L114.20,269.00 L115.09,269.20 L115.97,269.39 L116.85,269.59 L117.74,269.79 L118.62,269.99 L119.50,270.19 L120.38,270.39 L121.27,270.59 L122.15,270.79 L123.03,271.00 L123.91,271.20 L124.79,271.41 L125.67,271.61 L126.56,271.82 L127.44,272.02 L128.32,272.23 L129.20,272.44 L130.08,272.64 L130.96,272.85 L131.84,273.06 L132.72,273.27 L133.60,273.48 L134.49,273.69 L135.37,273.90 L136.25,274.11 L137.13,274.32 L138.01,274.53 L138.89,274.74 L139.77,274.95 L140.65,275.16 L141.53,275.37 L142.41,275.58 L143.29,275.79 L144.17,276.00 L145.06,276.21 L145.94,276.42 L146.82,276.63 L147.70,276.84 L148.58,277.05 L149.46,277.26 L150.34,277.46 L151.22,277.67 L152.11,277.88 L152.99,278.09 L153.87,278.29 L154.75,278.50 L155.63,278.70 L156.51,278.91 L157.40,279.11 L158.28,279.31 L159.16,279.52 L160.04,279.72 L160.93,279.92 L161.81,280.12 L162.69,280.32 L163.58,280.52 L164.46,280.72 L165.34,280.91 L166.23,281.11 L167.11,281.31 L168.00,281.50 L168.88,281.70 L169.76,281.89 L170.65,282.08 L171.53,282.28 L172.42,282.47 L173.30,282.66 L174.19,282.85 L175.07,283.04 L175.96,283.23 L176.84,283.42 L177.73,283.61 L178.61,283.80 L179.50,283.98 L180.39,284.17 L181.27,284.36 L182.16,284.54 L183.04,284.73 L183.93,284.91 L184.82,285.09 L185.70,285.28 L186.59,285.46 L187.48,285.64 L188.36,285.82 L189.25,286.00 L190.14,286.18 L191.03,286.36 L191.91,286.54 L192.80,286.72 L193.69,286.90 L194.58,287.07 L195.46,287.25 L196.35,287.43 L197.24,287.60 L198.13,287.78 L199.02,287.95 L199.91,288.13 L200.79,288.30 L201.68,288.48 L202.57,288.65 L203.46,288.82 L204.35,288.99 L205.24,289.16 L206.13,289.34 L207.02,289.51 L207.91,289.68 L208.79,289.85 L209.68,290.01 L210.57,290.18 L211.46,290.35 L212.35,290.52 L213.24,290.69 L214.13,290.85 L215.02,291.02 L215.91,291.19 L216.80,291.35 L217.69,291.52 L218.58,291.68 L219.47,291.85 L220.36,292.01 L221.26,292.18 L222.15,292.34 L223.04,292.50 L223.93,292.67 L224.82,292.83 L225.71,292.99 L226.60,293.15 L227.49,293.32 L228.38,293.48 L229.27,293.64 L230.17,293.80 L231.06,293.96 L231.95,294.12 L232.84,294.28 L233.73,294.44 L234.62,294.60 L235.51,294.76 L236.41,294.91 L237.30,295.07 L238.19,295.23 L239.08,295.39 L239.97,295.54 L240.87,295.70 L241.76,295.86 L242.65,296.02 L243.54,296.17 L244.43,296.33 L245.33,296.48 L246.22,296.64 L247.11,296.79 L248.00,296.95 L248.89,297.11 L249.79,297.26 L250.68,297.41 L251.57,297.57 L252.46,297.72 L253.36,297.88 L254.25,298.03 L255.14,298.18 L256.04,298.34 L256.93,298.49 L257.82,298.64 L258.71,298.80 L259.61,298.95 L260.50,299.10 L261.39,299.26 L262.28,299.41 L263.18,299.56 L264.07,299.71 L264.96,299.86 L265.86,300.02 L266.75,300.17 L267.64,300.32 L268.54,300.47 L269.43,300.62 L270.32,300.78 L271.21,300.93 L272.11,301.08 L273.00,301.23 L273.89,301.38 L274.79,301.53 L275.68,301.68 L276.57,301.83 L277.47,301.98 L278.36,302.14 L279.25,302.29 L280.15,302.44 L281.04,302.59 L281.93,302.74 L282.83,302.89 L283.72,303.04 L284.61,303.19 L285.50,303.34 L286.40,303.49 L287.29,303.64 L288.18,303.79 L289.08,303.94 L289.97,304.10 L290.86,304.25 L291.76,304.40 L292.65,304.55 L293.54,304.70 L294.44,304.85 L295.33,305.00 L296.22,305.15 L297.11,305.30 L298.01,305.45 L298.90,305.61 L299.79,305.76 L300.69,305.91 L301.58,306.06 L302.47,306.21 L303.36,306.36 L304.26,306.52 L305.15,306.67 L306.04,306.82 L306.94,306.97 L307.83,307.12 L308.72,307.28 L309.61,307.43 L310.51,307.58 L311.40,307.73 L312.29,307.89 L313.18,308.04 L314.08,308.19 L314.97,308.35 L315.86,308.50 L316.75,308.66 L317.65,308.81 L318.54,308.96 L319.43,309.12 L320.32,309.27 L321.21,309.43 L322.11,309.58 L323.00,309.74 L323.89,309.89 L324.78,310.05 L325.67,310.21 L326.57,310.36 L327.46,310.52 L328.35,310.67 L329.24,310.83 L330.13,310.99 L331.02,311.15 L331.91,311.30 L332.81,311.46 L333.70,311.62 L337.60,315.50" fill="none" stroke="#fe9f6d" stroke-width="1.6" stroke-linejoin="round"/>
<path d="M67.41,221.51 L68.10,221.56 L68.78,221.60 L69.47,221.64 L70.16,221.68 L70.85,221.72 L71.54,221.76 L72.22,221.80 L72.91,221.84 L73.60,221.89 L74.29,221.93 L74.98,221.97 L75.66,222.01 L76.35,222.05 L77.04,222.09 L77.73,222.13 L78.42,222.17 L79.11,222.22 L79.79,222.26 L80.48,222.30 L81.17,222.34 L81.86,222.38 L82.55,222.42 L83.24,222.47 L83.92,222.51 L84.61,222.55 L85.30,222.59 L85.99,222.63 L86.68,222.67 L87.37,222.72 L88.06,222.76 L88.74,222.80 L89.43,222.84 L90.12,222.88 L90.81,222.93 L91.50,222.97 L92.19,223.01 L92.88,223.05 L93.56,223.10 L94.25,223.14 L94.94,223.18 L95.63,223.23 L96.32,223.27 L97.01,223.31 L97.70,223.36 L98.39,223.40 L99.07,223.44 L99.76,223.49 L100.45,223.53 L101.14,223.57 L101.83,223.62 L102.52,223.66 L103.21,223.70 L103.90,223.75 L104.58,223.79 L105.27,223.84 L105.96,223.88 L106.65,223.93 L107.34,223.97 L108.03,224.02 L108.72,224.06 L109.41,224.11 L110.10,224.15 L110.78,224.20 L111.47,224.24 L112.16,224.29 L112.85,224.34 L113.54,224.38 L114.23,224.43 L114.92,224.48 L115.61,224.52 L116.29,224.57 L116.98,224.62 L117.67,224.66 L118.36,224.71 L119.05,224.76 L119.74,224.81 L120.43,224.85 L121.12,224.90 L121.81,224.95 L122.49,225.00 L123.18,225.05 L123.87,225.10 L124.56,225.15 L125.25,225.20 L125.94,225.24 L126.63,225.29 L127.32,225.34 L128.00,225.39 L128.69,225.45 L129.38,225.50 L130.07,225.55 L130.76,225.60 L131.45,225.65 L132.14,225.70 L132.82,225.75 L133.51,225.80 L134.20,225.86 L134.89,225.91 L135.58,225.96 L136.27,226.01 L136.96,226.07 L137.64,226.12 L138.33,226.17 L139.02,226.23 L139.71,226.28 L140.40,226.34 L141.09,226.39 L141.77,226.45 L142.46,226.50 L143.15,226.56 L143.84,226.61 L144.53,226.67 L145.22,226.73 L145.90,226.78 L146.59,226.84 L147.28,226.90 L147.97,226.95 L148.66,227.01 L149.34,227.07 L150.03,227.13 L150.72,227.19 L151.41,227.25 L152.10,227.30 L152.78,227.36 L153.47,227.42 L154.16,227.48 L154.85,227.54 L155.54,227.61 L156.22,227.67 L156.91,227.73 L157.60,227.79 L158.29,227.85 L158.97,227.91 L159.66,227.98 L160.35,228.04 L161.04,228.10 L161.72,228.17 L162.41,228.23 L163.10,228.30 L163.79,228.36 L164.47,228.42 L165.16,228.49 L165.85,228.56 L166.54,228.62 L167.22,228.69 L167.91,228.76 L168.60,228.82 L169.28,228.89 L169.97,228.96 L170.66,229.03 L171.35,229.10 L172.03,229.16 L172.72,229.23 L173.41,229.30 L174.09,229.37 L174.78,229.45 L175.47,229.52 L176.15,229.59 L176.84,229.66 L177.53,229.73 L178.21,229.80 L178.90,229.88 L179.58,229.95 L180.27,230.02 L180.96,230.10 L181.64,230.17 L182.33,230.25 L183.02,230.32 L183.70,230.40 L184.39,230.48 L185.07,230.55 L185.76,230.63 L186.45,230.71 L187.13,230.79 L187.82,230.86 L188.50,230.94 L189.19,231.02 L189.87,231.10 L190.56,231.18 L191.24,231.26 L191.93,231.34 L192.62,231.43 L193.30,231.51 L193.99,231.59 L194.67,231.67 L195.36,231.76 L196.04,231.84 L196.73,231.93 L197.41,232.01 L198.10,232.10 L198.78,232.18 L199.46,232.27 L200.15,232.35 L200.83,232.44 L201.52,232.53 L202.20,232.62 L202.89,232.71 L203.57,232.80 L204.26,232.88 L204.94,232.98 L205.62,233.07 L206.31,233.16 L206.99,233.25 L207.68,233.34 L208.36,233.43 L209.04,233.53 L209.73,233.62 L210.41,233.71 L211.09,233.81 L211.78,233.90 L212.46,234.00 L213.14,234.10 L213.83,234.19 L214.51,234.29 L215.19,234.39 L215.88,234.49 L216.56,234.59 L217.24,234.69 L217.92,234.79 L218.61,234.89 L219.29,234.99 L219.97,235.09 L220.65,235.19 L221.34,235.30 L222.02,235.40 L222.70,235.50 L223.38,235.61 L224.07,235.71 L224.75,235.82 L225.43,235.93 L226.11,236.03 L226.79,236.14 L227.47,236.25 L228.16,236.36 L228.84,236.47 L229.52,236.58 L230.20,236.69 L230.88,236.80 L231.56,236.91 L232.24,237.02 L232.92,237.13 L233.60,237.25 L234.29,237.36 L234.97,237.48 L235.65,237.59 L236.33,237.71 L237.01,237.82 L237.69,237.94 L238.37,238.06 L239.05,238.18 L239.73,238.30 L240.41,238.42 L241.09,238.54 L241.77,238.66 L242.45,238.78 L243.13,238.90 L243.81,239.03 L244.48,239.15 L245.16,239.27 L245.84,239.40 L246.52,239.53 L247.20,239.65 L247.88,239.78 L248.56,239.91 L249.23,240.04 L249.91,240.17 L250.59,240.30 L251.27,240.43 L251.95,240.56 L252.62,240.70 L253.30,240.83 L253.98,240.97 L254.65,241.11 L255.33,241.24 L256.00,241.38 L256.68,241.52 L257.36,241.66 L258.03,241.81 L258.71,241.95 L259.38,242.09 L260.05,242.24 L260.73,242.39 L261.40,242.53 L262.08,242.68 L262.75,242.83 L263.42,242.99 L264.09,243.14 L264.77,243.29 L265.44,243.45 L266.11,243.60 L266.78,243.76 L267.45,243.92 L268.12,244.08 L268.79,244.24 L269.46,244.41 L270.13,244.57 L270.80,244.74 L271.47,244.91 L272.14,245.07 L272.81,245.25 L273.47,245.42 L274.14,245.59 L274.81,245.77 L275.47,245.94 L276.14,246.12 L276.81,246.30 L277.47,246.48 L278.13,246.66 L278.80,246.85 L279.46,247.04 L280.12,247.22 L280.79,247.41 L281.45,247.60 L282.11,247.80 L282.77,247.99 L283.43,248.19 L284.09,248.39 L284.75,248.59 L285.41,248.79 L286.07,248.99 L286.73,249.20 L287.39,249.40 L288.04,249.61 L288.70,249.82 L289.35,250.04 L290.01,250.25 L290.66,250.47 L291.32,250.69 L291.97,250.91 L292.63,251.13 L293.28,251.36 L293.93,251.58 L294.58,251.81 L295.23,252.04 L295.88,252.28 L296.53,252.51 L297.18,252.75 L297.83,252.99 L298.47,253.23 L299.12,253.47 L299.77,253.72 L300.41,253.97 L301.06,254.22 L301.70,254.47 L302.35,254.72 L302.99,254.97 L303.63,255.23 L304.28,255.48 L304.92,255.73 L305.56,255.99 L306.21,256.24 L306.85,256.50 L307.49,256.75 L308.14,257.01 L308.78,257.26 L309.42,257.51 L310.07,257.76 L310.71,258.01 L311.36,258.25 L312.00,258.50 L312.65,258.74 L313.30,258.98 L313.94,259.22 L314.59,259.45 L315.24,259.69 L315.89,259.92 L316.54,260.14 L317.19,260.36 L317.84,260.58 L318.50,260.80 L319.15,261.01 L319.81,261.21 L320.47,261.41 L321.13,261.61 L321.79,261.80 L322.45,261.99 L323.11,262.17 L323.78,262.34 L324.44,262.51 L325.11,262.67 L325.78,262.83 L326.45,262.98 L327.12,263.12 L327.80,263.26 L328.48,263.39 L329.15,263.52 L329.83,263.64 L330.51,263.76 L331.19,263.88 L331.87,263.99 L332.55,264.11 L333.24,264.22 L333.92,264.34 L334.60,264.46 L335.28,264.58 L335.95,264.70 L336.63,264.83 L337.31,264.96 L337.98,265.09" fill="none" stroke="#b73779" stroke-width="1.8" stroke-dasharray="4.6 5.1"/>
<path d="M67.40,220.13 L68.09,220.17 L68.78,220.22 L69.47,220.27 L70.16,220.31 L70.85,220.36 L71.54,220.41 L72.23,220.45 L72.92,220.50 L73.61,220.54 L74.30,220.59 L74.99,220.63 L75.68,220.67 L76.37,220.72 L77.06,220.76 L77.75,220.80 L78.44,220.85 L79.13,220.89 L79.82,220.93 L80.51,220.97 L81.20,221.02 L81.89,221.06 L82.58,221.10 L83.27,221.14 L83.96,221.18 L84.65,221.22 L85.34,221.26 L86.03,221.30 L86.72,221.35 L87.41,221.39 L88.10,221.43 L88.79,221.47 L89.48,221.51 L90.17,221.55 L90.86,221.59 L91.55,221.63 L92.24,221.66 L92.93,221.70 L93.62,221.74 L94.31,221.78 L95.00,221.82 L95.69,221.86 L96.38,221.90 L97.07,221.94 L97.76,221.98 L98.45,222.02 L99.14,222.06 L99.83,222.10 L100.52,222.14 L101.21,222.18 L101.90,222.22 L102.59,222.26 L103.28,222.29 L103.97,222.33 L104.66,222.37 L105.35,222.41 L106.04,222.45 L106.73,222.49 L107.42,222.53 L108.11,222.57 L108.80,222.61 L109.49,222.65 L110.18,222.70 L110.87,222.74 L111.56,222.78 L112.25,222.82 L112.94,222.86 L113.63,222.90 L114.32,222.94 L115.01,222.98 L115.70,223.03 L116.39,223.07 L117.08,223.11 L117.77,223.15 L118.45,223.20 L119.14,223.24 L119.83,223.28 L120.52,223.33 L121.21,223.37 L121.90,223.42 L122.59,223.46 L123.28,223.51 L123.97,223.55 L124.66,223.60 L125.35,223.64 L126.04,223.69 L126.73,223.74 L127.42,223.79 L128.10,223.83 L128.79,223.88 L129.48,223.93 L130.17,223.98 L130.86,224.03 L131.55,224.08 L132.24,224.13 L132.93,224.18 L133.62,224.23 L134.30,224.28 L134.99,224.33 L135.68,224.38 L136.37,224.44 L137.06,224.49 L137.75,224.54 L138.43,224.60 L139.12,224.65 L139.81,224.71 L140.50,224.77 L141.19,224.82 L141.88,224.88 L142.56,224.94 L143.25,225.00 L143.94,225.05 L144.63,225.11 L145.32,225.17 L146.00,225.23 L146.69,225.30 L147.38,225.36 L148.07,225.42 L148.75,225.48 L149.44,225.55 L150.13,225.61 L150.82,225.68 L151.50,225.74 L152.19,225.81 L152.88,225.88 L153.57,225.94 L154.25,226.01 L154.94,226.08 L155.63,226.15 L156.31,226.22 L157.00,226.29 L157.69,226.36 L158.37,226.43 L159.06,226.50 L159.75,226.58 L160.43,226.65 L161.12,226.72 L161.81,226.80 L162.49,226.87 L163.18,226.95 L163.87,227.02 L164.55,227.10 L165.24,227.17 L165.93,227.25 L166.61,227.33 L167.30,227.41 L167.99,227.48 L168.67,227.56 L169.36,227.64 L170.05,227.72 L170.73,227.80 L171.42,227.88 L172.11,227.95 L172.79,228.03 L173.48,228.11 L174.17,228.19 L174.85,228.27 L175.54,228.35 L176.22,228.44 L176.91,228.52 L177.60,228.60 L178.28,228.68 L178.97,228.76 L179.66,228.84 L180.34,228.92 L181.03,229.00 L181.72,229.09 L182.40,229.17 L183.09,229.25 L183.78,229.33 L184.46,229.41 L185.15,229.49 L185.84,229.58 L186.52,229.66 L187.21,229.74 L187.90,229.82 L188.59,229.90 L189.27,229.99 L189.96,230.07 L190.65,230.15 L191.33,230.23 L192.02,230.31 L192.71,230.39 L193.40,230.47 L194.08,230.55 L194.77,230.64 L195.46,230.72 L196.15,230.80 L196.83,230.88 L197.52,230.96 L198.21,231.04 L198.90,231.12 L199.59,231.19 L200.27,231.27 L200.96,231.35 L201.65,231.43 L202.34,231.51 L203.03,231.59 L203.72,231.66 L204.40,231.74 L205.09,231.82 L205.78,231.90 L206.47,231.98 L207.16,232.05 L207.85,232.13 L208.54,232.21 L209.22,232.29 L209.91,232.37 L210.60,232.45 L211.29,232.53 L211.98,232.61 L212.67,232.69 L213.35,232.77 L214.04,232.85 L214.73,232.93 L215.42,233.01 L216.11,233.09 L216.79,233.18 L217.48,233.26 L218.17,233.34 L218.86,233.43 L219.54,233.51 L220.23,233.60 L220.92,233.69 L221.60,233.78 L222.29,233.87 L222.98,233.96 L223.66,234.05 L224.35,234.14 L225.03,234.23 L225.72,234.33 L226.40,234.42 L227.09,234.52 L227.77,234.62 L228.46,234.72 L229.14,234.82 L229.82,234.92 L230.51,235.02 L231.19,235.13 L231.87,235.23 L232.56,235.34 L233.24,235.45 L233.92,235.56 L234.60,235.67 L235.28,235.79 L235.96,235.90 L236.64,236.02 L237.32,236.14 L238.00,236.26 L238.68,236.38 L239.36,236.51 L240.04,236.63 L240.72,236.76 L241.39,236.89 L242.07,237.02 L242.75,237.16 L243.42,237.29 L244.10,237.43 L244.78,237.57 L245.45,237.71 L246.13,237.85 L246.80,238.00 L247.47,238.15 L248.15,238.29 L248.82,238.45 L249.49,238.60 L250.16,238.75 L250.84,238.91 L251.51,239.06 L252.18,239.22 L252.85,239.38 L253.52,239.54 L254.19,239.71 L254.86,239.87 L255.53,240.04 L256.20,240.21 L256.87,240.38 L257.53,240.55 L258.20,240.72 L258.87,240.90 L259.54,241.07 L260.20,241.25 L260.87,241.43 L261.54,241.61 L262.20,241.79 L262.87,241.97 L263.53,242.16 L264.20,242.34 L264.86,242.53 L265.52,242.72 L266.19,242.91 L266.85,243.10 L267.51,243.29 L268.18,243.49 L268.84,243.68 L269.50,243.88 L270.16,244.07 L270.82,244.27 L271.49,244.47 L272.15,244.67 L272.81,244.87 L273.47,245.08 L274.13,245.28 L274.79,245.49 L275.45,245.69 L276.11,245.90 L276.76,246.11 L277.42,246.32 L278.08,246.53 L278.74,246.74 L279.40,246.95 L280.05,247.16 L280.71,247.38 L281.37,247.59 L282.02,247.81 L282.68,248.03 L283.34,248.24 L283.99,248.46 L284.65,248.68 L285.30,248.90 L285.96,249.12 L286.61,249.35 L287.27,249.57 L287.92,249.79 L288.58,250.02 L289.23,250.24 L289.88,250.47 L290.54,250.69 L291.19,250.92 L291.84,251.15 L292.50,251.38 L293.15,251.61 L293.80,251.84 L294.45,252.07 L295.10,252.30 L295.76,252.53 L296.41,252.76 L297.06,252.99 L297.71,253.23 L298.36,253.46 L299.01,253.69 L299.66,253.93 L300.31,254.16 L300.96,254.40 L301.61,254.63 L302.26,254.87 L302.91,255.10 L303.56,255.34 L304.21,255.57 L304.86,255.81 L305.51,256.04 L306.16,256.27 L306.81,256.51 L307.46,256.74 L308.11,256.97 L308.76,257.20 L309.41,257.43 L310.06,257.66 L310.71,257.89 L311.37,258.12 L312.02,258.34 L312.67,258.57 L313.32,258.79 L313.98,259.01 L314.63,259.23 L315.28,259.45 L315.94,259.66 L316.59,259.88 L317.25,260.09 L317.90,260.30 L318.56,260.51 L319.21,260.71 L319.87,260.92 L320.53,261.12 L321.19,261.32 L321.85,261.51 L322.51,261.71 L323.17,261.90 L323.83,262.09 L324.49,262.27 L325.16,262.45 L325.82,262.63 L326.48,262.81 L327.15,262.98 L327.82,263.15 L328.48,263.31 L329.15,263.48 L329.82,263.63 L330.49,263.79 L331.16,263.94 L331.84,264.09 L332.51,264.23 L333.19,264.37 L333.86,264.50 L334.54,264.63 L335.22,264.76 L335.90,264.88 L336.58,265.00 L337.26,265.11 L337.94,265.22" fill="none" stroke="#b73779" stroke-width="1.8"/>
<path d="M67.39,210.57 L68.08,210.62 L68.78,210.67 L69.47,210.72 L70.17,210.78 L70.86,210.83 L71.55,210.89 L72.25,210.94 L72.94,211.00 L73.63,211.05 L74.32,211.11 L75.02,211.16 L75.71,211.22 L76.40,211.28 L77.10,211.34 L77.79,211.40 L78.48,211.46 L79.18,211.52 L79.87,211.58 L80.56,211.64 L81.25,211.70 L81.95,211.77 L82.64,211.83 L83.33,211.89 L84.02,211.96 L84.71,212.02 L85.41,212.09 L86.10,212.15 L86.79,212.22 L87.48,212.29 L88.17,212.35 L88.87,212.42 L89.56,212.49 L90.25,212.56 L90.94,212.63 L91.63,212.70 L92.32,212.77 L93.02,212.84 L93.71,212.91 L94.40,212.98 L95.09,213.05 L95.78,213.13 L96.47,213.20 L97.16,213.27 L97.86,213.35 L98.55,213.42 L99.24,213.50 L99.93,213.58 L100.62,213.65 L101.31,213.73 L102.00,213.81 L102.69,213.88 L103.38,213.96 L104.07,214.04 L104.76,214.12 L105.45,214.20 L106.14,214.28 L106.83,214.36 L107.52,214.44 L108.21,214.52 L108.90,214.60 L109.59,214.69 L110.28,214.77 L110.97,214.85 L111.66,214.94 L112.35,215.02 L113.04,215.10 L113.73,215.19 L114.42,215.27 L115.11,215.36 L115.80,215.45 L116.49,215.53 L117.18,215.62 L117.87,215.71 L118.56,215.80 L119.25,215.88 L119.94,215.97 L120.63,216.06 L121.32,216.15 L122.01,216.24 L122.70,216.33 L123.38,216.42 L124.07,216.51 L124.76,216.60 L125.45,216.70 L126.14,216.79 L126.83,216.88 L127.52,216.97 L128.21,217.07 L128.89,217.16 L129.58,217.25 L130.27,217.35 L130.96,217.44 L131.65,217.54 L132.34,217.63 L133.02,217.73 L133.71,217.83 L134.40,217.92 L135.09,218.02 L135.78,218.12 L136.47,218.21 L137.15,218.31 L137.84,218.41 L138.53,218.51 L139.22,218.61 L139.90,218.71 L140.59,218.81 L141.28,218.91 L141.97,219.01 L142.65,219.11 L143.34,219.21 L144.03,219.31 L144.72,219.41 L145.40,219.51 L146.09,219.62 L146.78,219.72 L147.47,219.82 L148.15,219.92 L148.84,220.03 L149.53,220.13 L150.21,220.23 L150.90,220.34 L151.59,220.44 L152.28,220.55 L152.96,220.65 L153.65,220.76 L154.34,220.86 L155.02,220.97 L155.71,221.08 L156.40,221.18 L157.08,221.29 L157.77,221.40 L158.46,221.50 L159.14,221.61 L159.83,221.72 L160.51,221.83 L161.20,221.94 L161.89,222.04 L162.57,222.15 L163.26,222.26 L163.95,222.37 L164.63,222.48 L165.32,222.59 L166.00,222.70 L166.69,222.81 L167.38,222.92 L168.06,223.03 L168.75,223.14 L169.43,223.25 L170.12,223.36 L170.80,223.48 L171.49,223.59 L172.18,223.70 L172.86,223.81 L173.55,223.92 L174.23,224.04 L174.92,224.15 L175.60,224.26 L176.29,224.38 L176.97,224.49 L177.66,224.60 L178.34,224.72 L179.03,224.83 L179.71,224.94 L180.40,225.06 L181.08,225.17 L181.77,225.29 L182.45,225.40 L183.14,225.52 L183.82,225.63 L184.51,225.75 L185.19,225.86 L185.88,225.98 L186.56,226.09 L187.25,226.21 L187.93,226.33 L188.62,226.44 L189.30,226.56 L189.99,226.67 L190.67,226.79 L191.36,226.91 L192.04,227.02 L192.73,227.14 L193.41,227.26 L194.10,227.37 L194.78,227.49 L195.46,227.61 L196.15,227.72 L196.83,227.84 L197.52,227.96 L198.20,228.07 L198.89,228.19 L199.57,228.31 L200.26,228.43 L200.94,228.54 L201.63,228.66 L202.31,228.78 L203.00,228.89 L203.68,229.01 L204.37,229.13 L205.05,229.25 L205.74,229.36 L206.42,229.48 L207.11,229.60 L207.79,229.71 L208.48,229.83 L209.16,229.95 L209.85,230.06 L210.53,230.18 L211.22,230.30 L211.90,230.42 L212.59,230.53 L213.27,230.65 L213.96,230.76 L214.64,230.88 L215.33,231.00 L216.01,231.11 L216.70,231.23 L217.39,231.34 L218.07,231.46 L218.76,231.58 L219.44,231.69 L220.13,231.81 L220.81,231.92 L221.50,232.04 L222.19,232.15 L222.87,232.27 L223.56,232.38 L224.25,232.50 L224.93,232.61 L225.62,232.72 L226.31,232.84 L226.99,232.95 L227.68,233.06 L228.37,233.18 L229.05,233.29 L229.74,233.40 L230.43,233.52 L231.11,233.63 L231.80,233.74 L232.49,233.85 L233.18,233.96 L233.86,234.08 L234.55,234.19 L235.24,234.30 L235.93,234.41 L236.61,234.53 L237.30,234.64 L237.99,234.75 L238.68,234.87 L239.36,234.98 L240.05,235.10 L240.74,235.21 L241.42,235.33 L242.11,235.45 L242.80,235.57 L243.48,235.69 L244.17,235.81 L244.85,235.93 L245.54,236.05 L246.22,236.18 L246.90,236.30 L247.59,236.43 L248.27,236.56 L248.95,236.69 L249.63,236.82 L250.32,236.96 L251.00,237.09 L251.68,237.23 L252.36,237.37 L253.04,237.51 L253.72,237.66 L254.39,237.80 L255.07,237.95 L255.75,238.10 L256.42,238.26 L257.10,238.41 L257.77,238.57 L258.45,238.73 L259.12,238.90 L259.79,239.06 L260.46,239.23 L261.13,239.41 L261.80,239.58 L262.47,239.76 L263.14,239.94 L263.81,240.13 L264.47,240.32 L265.14,240.51 L265.80,240.71 L266.46,240.91 L267.12,241.11 L267.79,241.31 L268.44,241.52 L269.10,241.74 L269.76,241.96 L270.42,242.18 L271.07,242.40 L271.72,242.63 L272.38,242.87 L273.03,243.11 L273.68,243.35 L274.33,243.60 L274.97,243.85 L275.62,244.10 L276.27,244.35 L276.91,244.61 L277.56,244.87 L278.20,245.14 L278.84,245.40 L279.49,245.67 L280.13,245.94 L280.77,246.21 L281.41,246.49 L282.05,246.76 L282.69,247.03 L283.33,247.31 L283.97,247.59 L284.61,247.86 L285.25,248.14 L285.89,248.41 L286.53,248.69 L287.17,248.97 L287.81,249.24 L288.45,249.51 L289.09,249.79 L289.74,250.06 L290.38,250.33 L291.02,250.60 L291.66,250.86 L292.31,251.13 L292.95,251.39 L293.59,251.66 L294.24,251.92 L294.88,252.18 L295.53,252.44 L296.18,252.69 L296.82,252.95 L297.47,253.20 L298.12,253.46 L298.76,253.71 L299.41,253.96 L300.06,254.21 L300.71,254.46 L301.36,254.71 L302.01,254.96 L302.66,255.20 L303.31,255.45 L303.96,255.69 L304.61,255.93 L305.26,256.17 L305.91,256.41 L306.56,256.65 L307.21,256.89 L307.87,257.12 L308.52,257.36 L309.17,257.60 L309.83,257.83 L310.48,258.06 L311.14,258.29 L311.79,258.52 L312.45,258.75 L313.10,258.97 L313.76,259.19 L314.42,259.41 L315.08,259.63 L315.74,259.85 L316.40,260.06 L317.06,260.27 L317.72,260.48 L318.38,260.68 L319.05,260.88 L319.71,261.08 L320.38,261.27 L321.04,261.46 L321.71,261.64 L322.38,261.82 L323.05,262.00 L323.72,262.17 L324.39,262.34 L325.07,262.50 L325.74,262.66 L326.41,262.82 L327.09,262.98 L327.77,263.13 L328.44,263.28 L329.12,263.42 L329.80,263.57 L330.48,263.71 L331.16,263.85 L331.84,263.98 L332.52,264.12 L333.20,264.25 L333.88,264.38 L334.56,264.51 L335.24,264.64 L335.92,264.77 L336.60,264.90 L337.28,265.02 L337.96,265.15" fill="none" stroke="#b73779" stroke-width="1.8" stroke-dasharray="4.8 3.1 1.7 3.1"/>
<rect x="40.8" y="181.5" width="305.8" height="139.89999999999998" fill="none" stroke="#3a3a3a" stroke-width="1.1"/>
<line x1="37.199999999999996" y1="202.5" x2="40.8" y2="202.5" stroke="#3a3a3a" stroke-width="1"/>
<text transform="translate(34.60,206.25)" font-size="11.3" text-anchor="end" font-style="normal" fill="#111" >0.3</text>
<line x1="37.199999999999996" y1="255.0" x2="40.8" y2="255.0" stroke="#3a3a3a" stroke-width="1"/>
<text transform="translate(34.60,258.75)" font-size="11.3" text-anchor="end" font-style="normal" fill="#111" >0</text>
<line x1="37.199999999999996" y1="307.5" x2="40.8" y2="307.5" stroke="#3a3a3a" stroke-width="1"/>
<text transform="translate(34.60,311.25)" font-size="11.3" text-anchor="end" font-style="normal" fill="#111" >-0.3</text>
<line x1="49.4" y1="321.4" x2="49.4" y2="325.0" stroke="#3a3a3a" stroke-width="1"/>
<text transform="translate(49.40,335.60)" font-size="11.3" text-anchor="middle" font-style="normal" fill="#111" >1</text>
<line x1="121.03640000000001" y1="321.4" x2="121.03640000000001" y2="325.0" stroke="#3a3a3a" stroke-width="1"/>
<text transform="translate(121.04,335.60)" font-size="11.3" text-anchor="middle" font-style="normal" fill="#111" >100</text>
<line x1="193.3964" y1="321.4" x2="193.3964" y2="325.0" stroke="#3a3a3a" stroke-width="1"/>
<text transform="translate(193.40,335.60)" font-size="11.3" text-anchor="middle" font-style="normal" fill="#111" >200</text>
<line x1="265.7564" y1="321.4" x2="265.7564" y2="325.0" stroke="#3a3a3a" stroke-width="1"/>
<text transform="translate(265.76,335.60)" font-size="11.3" text-anchor="middle" font-style="normal" fill="#111" >300</text>
<line x1="338.1164" y1="321.4" x2="338.1164" y2="325.0" stroke="#3a3a3a" stroke-width="1"/>
<text transform="translate(338.12,335.60)" font-size="11.3" text-anchor="middle" font-style="normal" fill="#111" >400</text>
<text transform="translate(193.30,349.10)" font-size="14" text-anchor="middle" font-style="italic" fill="#111" >ℓ</text>
<text transform="translate(73.40,198.40)" font-size="14" text-anchor="start" font-style="normal" fill="#111" >(d)</text>
<text transform="translate(100.30,247.40)" font-size="14" text-anchor="start" font-style="normal" fill="#111" >prethermal</text>
<text transform="translate(194.00,268.60)" font-size="14" text-anchor="start" font-style="normal" fill="#111" >thermal</text>
<text transform="translate(107.60,309.20)" font-size="14" text-anchor="start" font-style="normal" fill="#111" >nonthermal</text>
<line x1="100.3" y1="305.7" x2="78" y2="305.7" stroke="#111" stroke-width="1.3"/>
<path d="M71.2,305.7 L80.6,302.2 L80.6,309.2 Z" fill="#111"/>
<line x1="259.8" y1="195.9" x2="275.3" y2="195.9" stroke="#b73779" stroke-width="2"/>
<line x1="259.8" y1="210.5" x2="275.3" y2="210.5" stroke="#b73779" stroke-width="2" stroke-dasharray="5.2 4"/>
<line x1="259.8" y1="225.3" x2="275.3" y2="225.3" stroke="#b73779" stroke-width="1.8" stroke-dasharray="5 3 2 3"/>
<text transform="translate(279.40,199.60)" font-size="11.8" text-anchor="start" font-style="normal" fill="#111" >Gibbs</text>
<text transform="translate(279.40,214.30) scale(0.965,1.0)" font-size="11.8" text-anchor="start" font-style="normal" fill="#111" >Scully-Lamb</text>
<text transform="translate(279.40,229.10)" font-size="11.8" text-anchor="start" font-style="normal" fill="#111" >2-photon</text>
<text transform="translate(9.90,267.00) rotate(-90)" font-size="14.5" text-anchor="start" font-style="italic" fill="#111" >μ<tspan font-size="9.5" dy="2.5">ℓ</tspan></text>
<text transform="translate(9.90,251.70) rotate(-90)" font-size="16.5" text-anchor="middle" font-style="normal" fill="#111" >/</text>
<text transform="translate(9.90,247.60) rotate(-90)" font-size="14.5" text-anchor="start" font-style="italic" fill="#111" >T<tspan font-size="9.5" dy="2.5">ℓ</tspan></text>
<path d="M409.20,314.70 L474.83,312.30 L540.46,308.90 L606.09,307.10 L671.72,305.80" fill="none" stroke="#9370db" stroke-width="1.5" stroke-dasharray="4.2 3.3"/>
<polygon points="409.20,310.50 405.56,312.60 405.56,316.80 409.20,318.90 412.84,316.80 412.84,312.60" fill="#9370db"/>
<polygon points="474.83,308.10 471.19,310.20 471.19,314.40 474.83,316.50 478.47,314.40 478.47,310.20" fill="#9370db"/>
<polygon points="540.46,304.70 536.82,306.80 536.82,311.00 540.46,313.10 544.10,311.00 544.10,306.80" fill="#9370db"/>
<polygon points="606.09,302.90 602.45,305.00 602.45,309.20 606.09,311.30 609.73,309.20 609.73,305.00" fill="#9370db"/>
<polygon points="671.72,301.60 668.08,303.70 668.08,307.90 671.72,310.00 675.36,307.90 675.36,303.70" fill="#9370db"/>
<path d="M409.20,300.60 L474.83,276.30 L540.46,248.60 L606.09,217.40 L671.72,187.80" fill="none" stroke="#006400" stroke-width="1.5" stroke-dasharray="4.2 3.3"/>
<polygon points="409.20,296.40 405.56,298.50 405.56,302.70 409.20,304.80 412.84,302.70 412.84,298.50" fill="#006400"/>
<polygon points="474.83,272.10 471.19,274.20 471.19,278.40 474.83,280.50 478.47,278.40 478.47,274.20" fill="#006400"/>
<polygon points="540.46,244.40 536.82,246.50 536.82,250.70 540.46,252.80 544.10,250.70 544.10,246.50" fill="#006400"/>
<polygon points="606.09,213.20 602.45,215.30 602.45,219.50 606.09,221.60 609.73,219.50 609.73,215.30" fill="#006400"/>
<polygon points="671.72,183.60 668.08,185.70 668.08,189.90 671.72,192.00 675.36,189.90 675.36,185.70" fill="#006400"/>
<path d="M409.20,302.50 L474.83,299.10 L540.46,299.40 L606.09,300.60 L671.72,301.20" fill="none" stroke="#ff4500" stroke-width="1.5" stroke-dasharray="4.2 3.3"/>
<polygon points="409.20,298.30 405.56,300.40 405.56,304.60 409.20,306.70 412.84,304.60 412.84,300.40" fill="#ff4500"/>
<polygon points="474.83,294.90 471.19,297.00 471.19,301.20 474.83,303.30 478.47,301.20 478.47,297.00" fill="#ff4500"/>
<polygon points="540.46,295.20 536.82,297.30 536.82,301.50 540.46,303.60 544.10,301.50 544.10,297.30" fill="#ff4500"/>
<polygon points="606.09,296.40 602.45,298.50 602.45,302.70 606.09,304.80 609.73,302.70 609.73,298.50" fill="#ff4500"/>
<polygon points="671.72,297.00 668.08,299.10 668.08,303.30 671.72,305.40 675.36,303.30 675.36,299.10" fill="#ff4500"/>
<rect x="396.1" y="181.5" width="288.29999999999995" height="139.8" fill="none" stroke="#3a3a3a" stroke-width="1.1"/>
<line x1="392.5" y1="316.9" x2="396.1" y2="316.9" stroke="#3a3a3a" stroke-width="1"/>
<text transform="translate(389.90,320.65)" font-size="11.3" text-anchor="end" font-style="normal" fill="#111" >1</text>
<line x1="392.5" y1="254.5931" x2="396.1" y2="254.5931" stroke="#3a3a3a" stroke-width="1"/>
<text transform="translate(389.90,258.34)" font-size="11.3" text-anchor="end" font-style="normal" fill="#111" >200</text>
<line x1="392.5" y1="191.9731" x2="396.1" y2="191.9731" stroke="#3a3a3a" stroke-width="1"/>
<text transform="translate(389.90,195.72)" font-size="11.3" text-anchor="end" font-style="normal" fill="#111" >400</text>
<line x1="409.2" y1="321.3" x2="409.2" y2="324.90000000000003" stroke="#3a3a3a" stroke-width="1"/>
<text transform="translate(409.20,335.60)" font-size="11.3" text-anchor="middle" font-style="normal" fill="#111" >100</text>
<line x1="474.83" y1="321.3" x2="474.83" y2="324.90000000000003" stroke="#3a3a3a" stroke-width="1"/>
<text transform="translate(474.83,335.60)" font-size="11.3" text-anchor="middle" font-style="normal" fill="#111" >200</text>
<line x1="540.46" y1="321.3" x2="540.46" y2="324.90000000000003" stroke="#3a3a3a" stroke-width="1"/>
<text transform="translate(540.46,335.60)" font-size="11.3" text-anchor="middle" font-style="normal" fill="#111" >300</text>
<line x1="606.0899999999999" y1="321.3" x2="606.0899999999999" y2="324.90000000000003" stroke="#3a3a3a" stroke-width="1"/>
<text transform="translate(606.09,335.60)" font-size="11.3" text-anchor="middle" font-style="normal" fill="#111" >400</text>
<line x1="671.72" y1="321.3" x2="671.72" y2="324.90000000000003" stroke="#3a3a3a" stroke-width="1"/>
<text transform="translate(671.72,335.60)" font-size="11.3" text-anchor="middle" font-style="normal" fill="#111" >500</text>
<text transform="translate(541.00,350.40)" font-size="14" text-anchor="middle" font-style="italic" fill="#111" >L</text>
<text transform="translate(403.40,199.60)" font-size="14" text-anchor="start" font-style="normal" fill="#111" >(e)</text>
<polygon points="405.00,232.50 401.36,234.60 401.36,238.80 405.00,240.90 408.64,238.80 408.64,234.60" fill="#9370db"/>
<text transform="translate(415.30,240.30)" font-size="11.8" text-anchor="start" font-style="normal" fill="#111" >nonthermal</text>
<polygon points="405.00,247.50 401.36,249.60 401.36,253.80 405.00,255.90 408.64,253.80 408.64,249.60" fill="#006400"/>
<text transform="translate(415.30,255.30)" font-size="11.8" text-anchor="start" font-style="normal" fill="#111" >prethermal</text>
<polygon points="405.00,262.50 401.36,264.60 401.36,268.80 405.00,270.90 408.64,268.80 408.64,264.60" fill="#ff4500"/>
<text transform="translate(415.30,270.30)" font-size="11.8" text-anchor="start" font-style="normal" fill="#111" >thermal</text>
<text transform="translate(367.60,251.30) rotate(-90)" font-size="14" text-anchor="middle" font-style="normal" fill="#111" >domain length</text>
</g></svg>
</body></html>
